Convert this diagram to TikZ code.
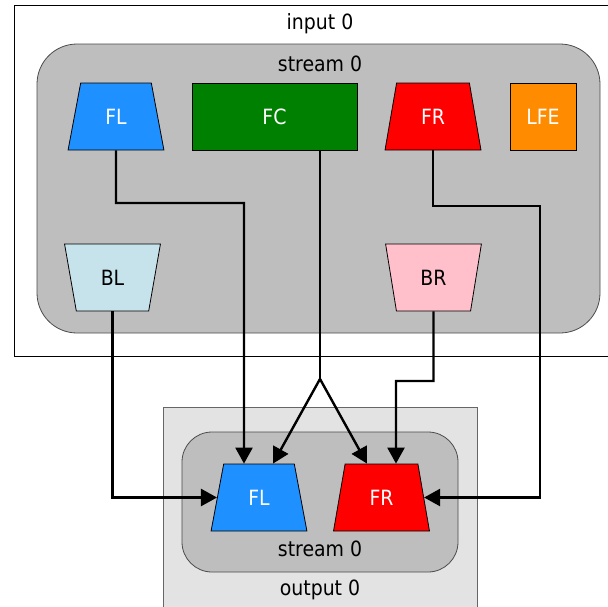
\documentclass[tikz,border=0pt]{standalone}
\usepackage{fontspec}
\setmainfont{DejaVu Sans Condensed}
\usepackage{tikz}
\usepackage{xcolor}
\usetikzlibrary{shapes.geometric,arrows.meta}

\definecolor{flblue}{HTML}{1E90FF}
\definecolor{fcgreen}{HTML}{008000}
\definecolor{frred}{HTML}{FF0000}
\definecolor{lfeorange}{HTML}{FF8C00}
\definecolor{blblue}{HTML}{C6E3EC}
\definecolor{brpink}{HTML}{FFC0CB}
\definecolor{streamgray}{HTML}{BEBEBE}
\definecolor{outgray}{HTML}{E3E3E3}

\tikzset{
  lbl/.style={font=\fontsize{21}{24}\selectfont},
  spk/.style={trapezium, trapezium left angle=76, trapezium right angle=76,
    trapezium stretches=true, minimum width=96pt, minimum height=67pt,
    inner sep=0pt, draw=black, line width=0.8pt, lbl},
  spkback/.style={spk, shape border rotate=180},
  chanbox/.style={rectangle, minimum height=67pt, inner sep=0pt,
    draw=black, line width=0.8pt, lbl},
  conn/.style={line width=2.4pt, -{Triangle[length=16pt,width=17pt]}},
}

\begin{document}
\begin{tikzpicture}[x=1pt, y=-1pt]
  \useasboundingbox (0,0) rectangle (608,606);
  \clip (0,0) rectangle (608,606);

  % input side
  \draw[line width=1pt, fill=white] (14,5) rectangle (640,356);
  \node[lbl] (inlabel) at (320,24) {input 0};
  \draw[draw=black!70, line width=0.8pt, fill=streamgray, rounded corners=40pt] (37,44) rectangle (600,333);
  \node[lbl] (instream) at (320,64) {stream 0};

  % output side
  \draw[draw=black!60, line width=0.8pt, fill=outgray] (163,407) rectangle (477,640);
  \draw[draw=black!70, line width=0.8pt, fill=streamgray, rounded corners=30pt] (182,432) rectangle (458,572);
  \node[lbl] (outstream) at (320,549) {stream 0};
  \node[lbl] (outlabel) at (320,590) {output 0};

  % input channels
  \node[spk, fill=flblue, text=white] (inFL) at (116,116.5) {FL};
  \node[chanbox, fill=fcgreen, text=white, minimum width=165pt] (FC) at (274.5,116.5) {FC};
  \node[spk, fill=frred, text=white] (inFR) at (433,116.5) {FR};
  \node[chanbox, fill=lfeorange, text=white, minimum width=66pt] (LFE) at (543,116.5) {LFE};
  \node[spkback, fill=blblue] (BL) at (112.5,277.5) {BL};
  \node[spkback, fill=brpink] (BR) at (433.5,277.5) {BR};

  % output channels
  \node[spk, fill=flblue, text=white] (outFL) at (259,497.5) {FL};
  \node[spk, fill=frred, text=white] (outFR) at (381.5,497.5) {FR};

  % mapping
  \coordinate (split) at (320,379);
  \draw[conn] (inFL.south) |- (244,203) -- ([xshift=-15pt]outFL.north);
  \draw[line width=2.4pt] ([xshift=45.5pt]FC.south) -- (split);
  \draw[conn] (split) -- ([xshift=14pt]outFL.north);
  \draw[conn] (split) -- ([xshift=-14.5pt]outFR.north);
  \draw[conn] (inFR.south) |- (540,206) |- (outFR.east);
  \draw[conn] (BL.south) |- (outFL.west);
  \draw[conn] (BR.south) |- (396,381) -- ([xshift=14.5pt]outFR.north);
\end{tikzpicture}
\end{document}
